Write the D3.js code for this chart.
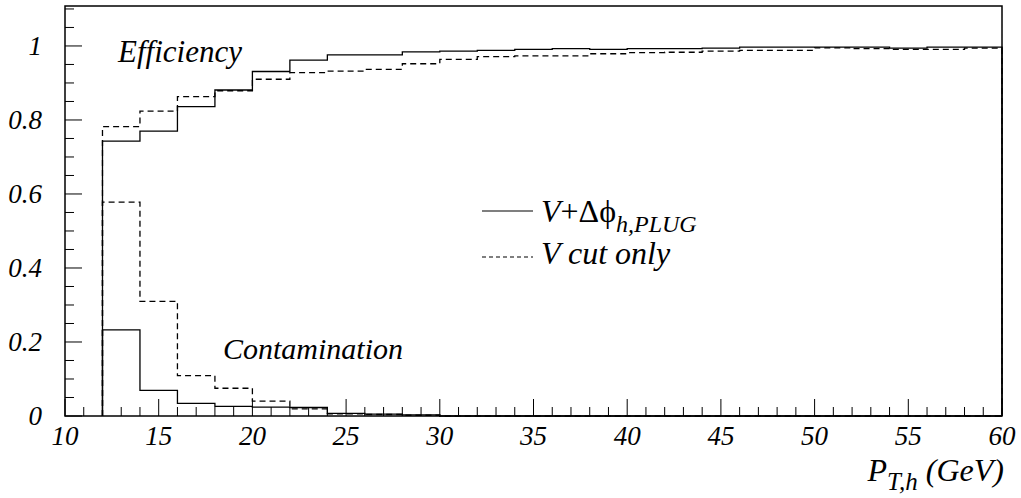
<!DOCTYPE html>
<html>
<head>
<meta charset="utf-8">
<script src="https://cdn.jsdelivr.net/npm/d3@7"></script>
</head>
<body style="margin:0">
<svg id="chart" width="1021" height="498"></svg>
<script>
// ---- data ----
const binLow = [12,14,16,18,20,22,24,26,28,30,32,34,36,38,40,42,44,46,48,50,52,54,56,58];
const binWidth = 2;
const effCombined = [0.743,0.770,0.836,0.881,0.931,0.962,0.976,0.976,0.984,0.986,0.988,0.991,0.993,0.991,0.993,0.993,0.994,0.997,0.997,0.997,0.997,0.994,0.997,0.997];
const effVonly    = [0.782,0.824,0.863,0.879,0.910,0.928,0.932,0.937,0.952,0.964,0.971,0.973,0.973,0.979,0.982,0.983,0.986,0.988,0.988,0.995,0.993,0.991,0.991,0.994];
const contCombined = [0.233,0.069,0.034,0.026,0.024,0.023,0.007,0.005,0.003,0,0,0,0,0,0,0,0,0,0,0,0,0,0,0];
const contVonly    = [0.578,0.310,0.109,0.075,0.040,0.019,0.006,0.004,0.002,0,0,0,0,0,0,0,0,0,0,0,0,0,0,0];
const xMajorTicks = [10,15,20,25,30,35,40,45,50,55,60];
const yMajorTicks = [0,0.2,0.4,0.6,0.8,1];
const yTickLabels = ["0","0.2","0.4","0.6","0.8","1"];
const legendLabels = ["V cut only"];

// ---- layout ----
const FONT = "Times New Roman";
const svg = d3.select("#chart");
const L = 65, R = 1002, T = 6, B = 416;
const x = d3.scaleLinear().domain([10, 60]).range([L, R]);
const y = d3.scaleLinear().domain([0, 1.108]).range([B, T]);

function label(sel) {
  return sel.append("text").attr("font-family", FONT).attr("font-style", "italic");
}

// frame
svg.append("rect").attr("x", L).attr("y", T).attr("width", R - L).attr("height", B - T)
  .attr("fill", "none").attr("stroke", "#000").attr("stroke-width", 1.5);

// x ticks
const xMinor = d3.range(10, 60.001, 1);
svg.append("g").selectAll("line").data(xMinor).join("line")
  .attr("x1", d => x(d)).attr("x2", d => x(d))
  .attr("y1", B).attr("y2", d => xMajorTicks.includes(d) ? B - 17 : B - 9)
  .attr("stroke", "#000").attr("stroke-width", 1);
xMajorTicks.forEach(d => {
  label(svg).attr("x", x(d)).attr("y", 445).attr("text-anchor", "middle").attr("font-size", 27).text(d);
});

// y ticks
const yMinor = d3.range(0, 1.1001, 0.05);
svg.append("g").selectAll("line").data(yMinor).join("line")
  .attr("x1", L).attr("x2", d => (Math.abs(d / 0.2 - Math.round(d / 0.2)) < 1e-6 && d <= 1.0001) ? L + 17 : L + 9)
  .attr("y1", d => y(d)).attr("y2", d => y(d))
  .attr("stroke", "#000").attr("stroke-width", 1);
yMajorTicks.forEach((d, i) => {
  label(svg).attr("x", 42).attr("y", y(d) + 9).attr("text-anchor", "end").attr("font-size", 27).text(yTickLabels[i]);
});

// histogram paths
function histPoints(vals) {
  const pts = [[binLow[0], 0]];
  vals.forEach((v, i) => { pts.push([binLow[i], v]); pts.push([binLow[i] + binWidth, v]); });
  pts.push([binLow[binLow.length - 1] + binWidth, 0]);
  return pts;
}
const line = d3.line().x(d => x(d[0])).y(d => y(d[1]));
const series = [
  { vals: contVonly, dash: "6,4" },
  { vals: effVonly, dash: "6,4" },
  { vals: contCombined, dash: null },
  { vals: effCombined, dash: null }
];
series.forEach(s => {
  svg.append("path").attr("d", line(histPoints(s.vals)))
    .attr("fill", "none").attr("stroke", "#000").attr("stroke-width", 1.3)
    .attr("stroke-dasharray", s.dash);
});

// annotations
label(svg).attr("x", 118).attr("y", 62).attr("font-size", 31).text("Efficiency");
label(svg).attr("x", 223).attr("y", 359).attr("font-size", 30).text("Contamination");

// legend
svg.append("line").attr("x1", 482).attr("x2", 533).attr("y1", 211).attr("y2", 211)
  .attr("stroke", "#000").attr("stroke-width", 1.2);
svg.append("line").attr("x1", 482).attr("x2", 533).attr("y1", 257).attr("y2", 257)
  .attr("stroke", "#000").attr("stroke-width", 1.2).attr("stroke-dasharray", "4,3");
const t1 = label(svg).attr("x", 541).attr("y", 222).attr("font-size", 32);
t1.append("tspan").text("V");
t1.append("tspan").attr("font-style", "normal").text("+Δϕ");
t1.append("tspan").attr("dy", 10).attr("font-size", 24).text("h,PLUG");
label(svg).attr("x", 541).attr("y", 264).attr("font-size", 32).text(legendLabels[0]);

// axis title
const at = label(svg).attr("x", 1004).attr("y", 481).attr("text-anchor", "end").attr("font-size", 32);
at.append("tspan").text("P");
at.append("tspan").attr("dy", 9).attr("font-size", 25).text("T,h");
at.append("tspan").attr("dy", -9).text(" (GeV)");
</script>
</body>
</html>
